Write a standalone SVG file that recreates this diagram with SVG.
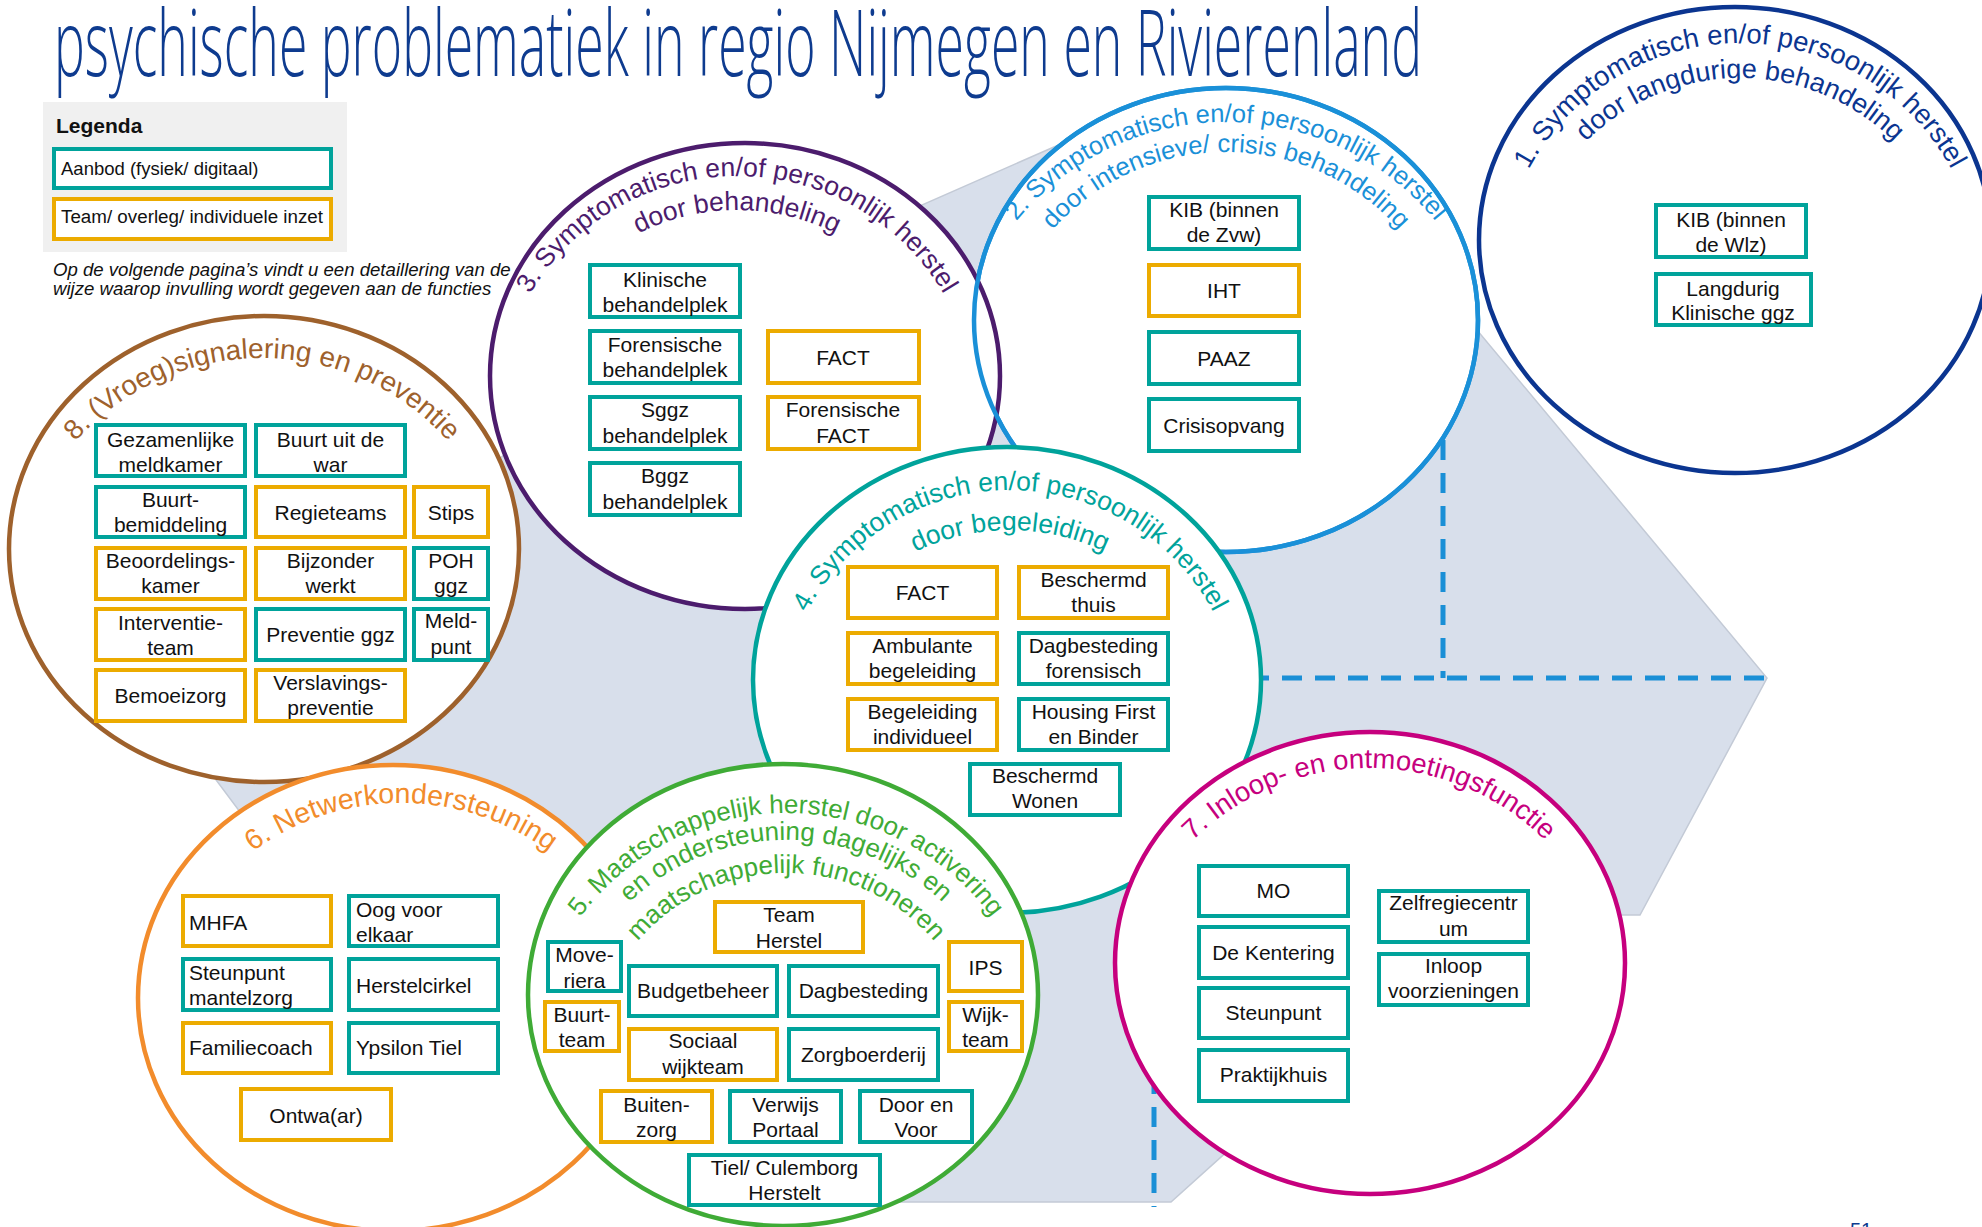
<svg xmlns="http://www.w3.org/2000/svg" width="1982" height="1227" viewBox="0 0 1982 1227">
<defs>
<style>
.bt{font-family:"Liberation Sans",Arial,sans-serif;font-size:21px;fill:#111;text-anchor:middle}
.bl{font-family:"Liberation Sans",Arial,sans-serif;font-size:21px;fill:#111;text-anchor:start}
.t{fill:#fff;stroke:#00a39b;stroke-width:4}
.o{fill:#fff;stroke:#ecab00;stroke-width:4}
.ring{fill:#fff;stroke-width:4.5}
.line{fill:none;stroke-width:4.5}
.arc{font-family:"Liberation Sans",Arial,sans-serif;font-size:27px;text-anchor:middle}
.dash{stroke:#1a8fd6;stroke-width:5;stroke-dasharray:20 13;fill:none}
</style>
<path id="p1a" d="M1500 283 A240 240 0 0 1 1980 283"/>
<path id="p1b" d="M1522 296 A218 218 0 0 1 1958 296"/>
<path id="p2a" d="M955 393 A271 271 0 0 1 1497 393"/>
<path id="p2b" d="M994 384 A232 232 0 0 1 1458 384"/>
<path id="p3a" d="M497 416 A240 240 0 0 1 977 416"/>
<path id="p3b" d="M519 428 A218 218 0 0 1 955 428"/>
<path id="p4a" d="M780 720 A230 230 0 0 1 1240 720"/>
<path id="p4b" d="M794 746 A216 216 0 0 1 1226 746"/>
<path id="p5a" d="M531 1068 A255 255 0 0 1 1041 1068"/>
<path id="p5b" d="M558 1068 A228 228 0 0 1 1014 1068"/>
<path id="p5c" d="M591 1068 A195 195 0 0 1 981 1068"/>
<path id="p6a" d="M151 1053 A250 250 0 0 1 651 1053"/>
<path id="p7a" d="M1119 1018 A250 250 0 0 1 1619 1018"/>
<path id="p8a" d="M12 608 A250 250 0 0 1 512 608"/>
</defs>

<rect x="0" y="0" width="1982" height="1227" fill="#fff"/>

<g id="background">
<polygon points="640,329 1129,114 1297,114 1767,678 1640,915 1490,915 1171,1202 720,1202 240,812 190,745" fill="#d8dfeb" stroke="#c3cad6" stroke-width="1.5"/>
</g>

<g id="connectors">
<line class="dash" x1="1443" y1="440" x2="1443" y2="678"/>
<line class="dash" x1="1150" y1="678" x2="1767" y2="678"/>
<line class="dash" x1="1154" y1="678" x2="1154" y2="1207"/>
</g>

<g id="title">
<text x="54" y="76" textLength="1368" lengthAdjust="spacingAndGlyphs" font-family="'Open Sans','Liberation Sans',sans-serif" font-weight="300" font-size="92" fill="#0e3b8f">psychische problematiek in regio Nijmegen en Rivierenland</text>
</g>

<g id="legend">
<rect x="43" y="102" width="304" height="150" fill="#f0f0f0"/>
<text x="56" y="133" font-family="'Liberation Sans',Arial,sans-serif" font-size="21" font-weight="bold" fill="#111">Legenda</text>
<rect class="t" x="54" y="149" width="277" height="39"/>
<text x="61" y="175" font-family="'Liberation Sans',Arial,sans-serif" font-size="18.5" fill="#111">Aanbod (fysiek/ digitaal)</text>
<rect class="o" x="54" y="199" width="277" height="40"/>
<text x="61" y="223" font-family="'Liberation Sans',Arial,sans-serif" font-size="18.8" fill="#111">Team/ overleg/ individuele inzet</text>
<text font-family="'Liberation Sans',Arial,sans-serif" font-size="18.6" font-style="italic" fill="#111"><tspan x="53" y="276">Op de volgende pagina’s vindt u een detaillering van de</tspan><tspan x="53" y="295">wijze waarop invulling wordt gegeven aan de functies</tspan></text>
</g>

<g id="circle1">
<ellipse class="ring" cx="1735" cy="240" rx="256" ry="233" stroke="#0b3590"/>
<text class="arc" fill="#0b3590" style="font-size:27.5px"><textPath href="#p1a" startOffset="50%">1. Symptomatisch en/of persoonlijk herstel</textPath></text>
<text class="arc" fill="#0b3590"><textPath href="#p1b" startOffset="50%">door langdurige behandeling</textPath></text>
<rect class="t" x="1656" y="205" width="150" height="52"/>
<text class="bt"><tspan x="1731" y="227">KIB (binnen</tspan><tspan x="1731" y="252">de Wlz)</tspan></text>
<rect class="t" x="1656" y="274" width="155" height="51"/>
<text class="bt"><tspan x="1733" y="296">Langdurig</tspan><tspan x="1733" y="320">Klinische ggz</tspan></text>
</g>

<g id="circle2">
<ellipse class="ring" cx="1226" cy="320" rx="252" ry="232" stroke="#1a90d8"/>
<text class="arc" fill="#1a90d8" style="font-size:25.5px"><textPath href="#p2a" startOffset="50%">2. Symptomatisch en/of persoonlijk herstel</textPath></text>
<text class="arc" fill="#1a90d8" style="font-size:25.5px"><textPath href="#p2b" startOffset="50%">door intensieve/ crisis behandeling</textPath></text>
<rect class="t" x="1149" y="197" width="150" height="52"/>
<text class="bt"><tspan x="1224" y="217">KIB (binnen</tspan><tspan x="1224" y="242">de Zvw)</tspan></text>
<rect class="o" x="1149" y="265" width="150" height="51"/>
<text class="bt" x="1224" y="298">IHT</text>
<rect class="t" x="1149" y="332" width="150" height="52"/>
<text class="bt" x="1224" y="366">PAAZ</text>
<rect class="t" x="1149" y="399" width="150" height="52"/>
<text class="bt" x="1224" y="433">Crisisopvang</text>
</g>

<g id="circle3">
<ellipse class="ring" cx="745" cy="376" rx="255" ry="233" stroke="#4c1c6d"/>
<text class="arc" fill="#4c1c6d" style="font-size:26.5px"><textPath href="#p3a" startOffset="50%">3. Symptomatisch en/of persoonlijk herstel</textPath></text>
<text class="arc" fill="#4c1c6d" style="font-size:26.5px"><textPath href="#p3b" startOffset="50%">door behandeling</textPath></text>
<rect class="t" x="590" y="265" width="150" height="52"/>
<text class="bt"><tspan x="665" y="287">Klinische</tspan><tspan x="665" y="312">behandelplek</tspan></text>
<rect class="t" x="590" y="331" width="150" height="52"/>
<text class="bt"><tspan x="665" y="352">Forensische</tspan><tspan x="665" y="377">behandelplek</tspan></text>
<rect class="t" x="590" y="397" width="150" height="52"/>
<text class="bt"><tspan x="665" y="417">Sggz</tspan><tspan x="665" y="443">behandelplek</tspan></text>
<rect class="t" x="590" y="463" width="150" height="52"/>
<text class="bt"><tspan x="665" y="483">Bggz</tspan><tspan x="665" y="509">behandelplek</tspan></text>
<rect class="o" x="768" y="331" width="151" height="52"/>
<text class="bt" x="843" y="365">FACT</text>
<rect class="o" x="768" y="397" width="151" height="52"/>
<text class="bt"><tspan x="843" y="417">Forensische</tspan><tspan x="843" y="443">FACT</tspan></text>
</g>

<g id="circle2-outline">
<ellipse class="line" cx="1226" cy="320" rx="252" ry="232" stroke="#1a90d8"/>
</g>

<g id="circle8">
<ellipse class="ring" cx="264" cy="549" rx="255" ry="233" stroke="#9e612c"/>
<text class="arc" fill="#9e612c" style="font-size:28px"><textPath href="#p8a" startOffset="50%">8. (Vroeg)signalering en preventie</textPath></text>
<rect class="t" x="96" y="425" width="149" height="51"/>
<text class="bt"><tspan x="170.5" y="447">Gezamenlijke</tspan><tspan x="170.5" y="472">meldkamer</tspan></text>
<rect class="t" x="256" y="425" width="149" height="51"/>
<text class="bt"><tspan x="330.5" y="447">Buurt uit de</tspan><tspan x="330.5" y="472">war</tspan></text>
<rect class="t" x="96" y="487" width="149" height="50"/>
<text class="bt"><tspan x="170.5" y="507">Buurt-</tspan><tspan x="170.5" y="532">bemiddeling</tspan></text>
<rect class="o" x="256" y="487" width="149" height="50"/>
<text class="bt" x="330.5" y="520">Regieteams</text>
<rect class="o" x="414" y="487" width="74" height="50"/>
<text class="bt" x="451" y="520">Stips</text>
<rect class="o" x="96" y="548" width="149" height="51"/>
<text class="bt"><tspan x="170.5" y="568">Beoordelings-</tspan><tspan x="170.5" y="593">kamer</tspan></text>
<rect class="o" x="256" y="548" width="149" height="51"/>
<text class="bt"><tspan x="330.5" y="568">Bijzonder</tspan><tspan x="330.5" y="593">werkt</tspan></text>
<rect class="t" x="414" y="548" width="74" height="51"/>
<text class="bt"><tspan x="451" y="568">POH</tspan><tspan x="451" y="593">ggz</tspan></text>
<rect class="o" x="96" y="609" width="149" height="51"/>
<text class="bt"><tspan x="170.5" y="630">Interventie-</tspan><tspan x="170.5" y="655">team</tspan></text>
<rect class="t" x="256" y="609" width="149" height="51"/>
<text class="bt" x="330.5" y="642">Preventie ggz</text>
<rect class="t" x="414" y="609" width="74" height="51"/>
<text class="bt"><tspan x="451" y="628">Meld-</tspan><tspan x="451" y="654">punt</tspan></text>
<rect class="o" x="96" y="670" width="149" height="51"/>
<text class="bt" x="170.5" y="703">Bemoeizorg</text>
<rect class="o" x="256" y="670" width="149" height="51"/>
<text class="bt"><tspan x="330.5" y="690">Verslavings-</tspan><tspan x="330.5" y="715">preventie</tspan></text>
</g>

<g id="circle6">
<ellipse class="ring" cx="393" cy="998" rx="255" ry="233" stroke="#f28c2c"/>
<text class="arc" fill="#f28c2c" style="font-size:28.5px"><textPath href="#p6a" startOffset="50%">6. Netwerkondersteuning</textPath></text>
<rect class="o" x="183" y="896" width="148" height="50"/>
<text class="bl" x="189" y="930">MHFA</text>
<rect class="t" x="349" y="896" width="149" height="50"/>
<text class="bl"><tspan x="356" y="917">Oog voor</tspan><tspan x="356" y="942">elkaar</tspan></text>
<rect class="t" x="183" y="959" width="148" height="51"/>
<text class="bl"><tspan x="189" y="980">Steunpunt</tspan><tspan x="189" y="1005">mantelzorg</tspan></text>
<rect class="t" x="349" y="959" width="149" height="51"/>
<text class="bl" x="356" y="993">Herstelcirkel</text>
<rect class="o" x="183" y="1023" width="148" height="50"/>
<text class="bl" x="189" y="1055">Familiecoach</text>
<rect class="t" x="349" y="1023" width="149" height="50"/>
<text class="bl" x="356" y="1055">Ypsilon Tiel</text>
<rect class="o" x="241" y="1089" width="150" height="51"/>
<text class="bt" x="316" y="1123">Ontwa(ar)</text>
</g>

<g id="circle4">
<ellipse class="ring" cx="1007" cy="680" rx="254" ry="233" stroke="#00a39b"/>
<text class="arc" fill="#00a39b" style="font-size:26.5px"><textPath href="#p4a" startOffset="50%">4. Symptomatisch en/of persoonlijk herstel</textPath></text>
<text class="arc" fill="#00a39b" style="font-size:26.5px"><textPath href="#p4b" startOffset="50%">door begeleiding</textPath></text>
<rect class="o" x="848" y="567" width="149" height="51"/>
<text class="bt" x="922.5" y="600">FACT</text>
<rect class="o" x="1019" y="567" width="149" height="51"/>
<text class="bt"><tspan x="1093.5" y="587">Beschermd</tspan><tspan x="1093.5" y="612">thuis</tspan></text>
<rect class="o" x="848" y="633" width="149" height="51"/>
<text class="bt"><tspan x="922.5" y="653">Ambulante</tspan><tspan x="922.5" y="678">begeleiding</tspan></text>
<rect class="t" x="1019" y="633" width="149" height="51"/>
<text class="bt"><tspan x="1093.5" y="653">Dagbesteding</tspan><tspan x="1093.5" y="678">forensisch</tspan></text>
<rect class="o" x="848" y="699" width="149" height="51"/>
<text class="bt"><tspan x="922.5" y="719">Begeleiding</tspan><tspan x="922.5" y="744">individueel</tspan></text>
<rect class="t" x="1019" y="699" width="149" height="51"/>
<text class="bt"><tspan x="1093.5" y="719">Housing First</tspan><tspan x="1093.5" y="744">en Binder</tspan></text>
<rect class="t" x="970" y="764" width="150" height="51"/>
<text class="bt"><tspan x="1045" y="783">Beschermd</tspan><tspan x="1045" y="808">Wonen</tspan></text>
</g>

<g id="circle5">
<ellipse class="ring" cx="783" cy="995" rx="255" ry="231" stroke="#3fab36"/>
<text class="arc" fill="#3fab36" style="font-size:26px"><textPath href="#p5a" startOffset="50%">5. Maatschappelijk herstel door activering</textPath></text>
<text class="arc" fill="#3fab36" style="font-size:26px"><textPath href="#p5b" startOffset="50%">en ondersteuning dagelijks en</textPath></text>
<text class="arc" fill="#3fab36" style="font-size:26px"><textPath href="#p5c" startOffset="50%">maatschappelijk functioneren</textPath></text>
<rect class="o" x="715" y="902" width="148" height="50"/>
<text class="bt"><tspan x="789" y="922">Team</tspan><tspan x="789" y="948">Herstel</tspan></text>
<rect class="t" x="548" y="942" width="73" height="49"/>
<text class="bt"><tspan x="584.5" y="962">Move-</tspan><tspan x="584.5" y="988">riera</tspan></text>
<rect class="o" x="545" y="1002" width="74" height="49"/>
<text class="bt"><tspan x="582" y="1022">Buurt-</tspan><tspan x="582" y="1047">team</tspan></text>
<rect class="t" x="629" y="966" width="148" height="50"/>
<text class="bt" x="703" y="998">Budgetbeheer</text>
<rect class="t" x="789" y="966" width="149" height="50"/>
<text class="bt" x="863.5" y="998">Dagbesteding</text>
<rect class="o" x="949" y="942" width="73" height="49"/>
<text class="bt" x="985.5" y="975">IPS</text>
<rect class="o" x="629" y="1029" width="148" height="51"/>
<text class="bt"><tspan x="703" y="1048">Sociaal</tspan><tspan x="703" y="1074">wijkteam</tspan></text>
<rect class="t" x="789" y="1029" width="149" height="51"/>
<text class="bt" x="863.5" y="1062">Zorgboerderij</text>
<rect class="o" x="949" y="1002" width="73" height="49"/>
<text class="bt"><tspan x="985.5" y="1022">Wijk-</tspan><tspan x="985.5" y="1047">team</tspan></text>
<rect class="o" x="601" y="1091" width="111" height="51"/>
<text class="bt"><tspan x="656.5" y="1112">Buiten-</tspan><tspan x="656.5" y="1137">zorg</tspan></text>
<rect class="t" x="730" y="1091" width="111" height="51"/>
<text class="bt"><tspan x="785.5" y="1112">Verwijs</tspan><tspan x="785.5" y="1137">Portaal</tspan></text>
<rect class="t" x="860" y="1091" width="112" height="51"/>
<text class="bt"><tspan x="916" y="1112">Door en</tspan><tspan x="916" y="1137">Voor</tspan></text>
<rect class="t" x="689" y="1155" width="191" height="50"/>
<text class="bt"><tspan x="784.5" y="1175">Tiel/ Culemborg</tspan><tspan x="784.5" y="1200">Herstelt</tspan></text>
</g>

<g id="circle7">
<ellipse class="ring" cx="1370" cy="963" rx="255" ry="231" stroke="#c6007e"/>
<text class="arc" fill="#c6007e" style="font-size:27.5px"><textPath href="#p7a" startOffset="50%">7. Inloop- en ontmoetingsfunctie</textPath></text>
<rect class="t" x="1199" y="866" width="149" height="50"/>
<text class="bt" x="1273.5" y="898">MO</text>
<rect class="t" x="1199" y="927" width="149" height="51"/>
<text class="bt" x="1273.5" y="960">De Kentering</text>
<rect class="t" x="1199" y="988" width="149" height="50"/>
<text class="bt" x="1273.5" y="1020">Steunpunt</text>
<rect class="t" x="1199" y="1050" width="149" height="51"/>
<text class="bt" x="1273.5" y="1082">Praktijkhuis</text>
<rect class="t" x="1379" y="891" width="149" height="51"/>
<text class="bt"><tspan x="1453.5" y="910">Zelfregiecentr</tspan><tspan x="1453.5" y="936">um</tspan></text>
<rect class="t" x="1379" y="954" width="149" height="51"/>
<text class="bt"><tspan x="1453.5" y="973">Inloop</tspan><tspan x="1453.5" y="998">voorzieningen</tspan></text>
</g>

<g id="page-number">
<text x="1850" y="1237" font-family="'Liberation Sans',Arial,sans-serif" font-size="20" fill="#0e3b8f">51</text>
</g>
</svg>
